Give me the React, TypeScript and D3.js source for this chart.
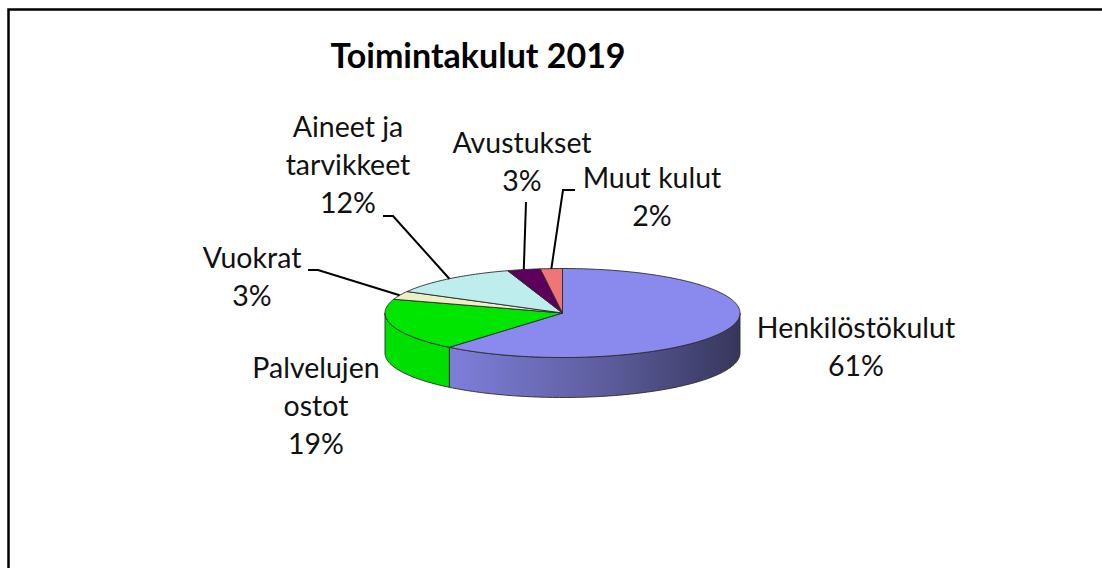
import React, { useEffect, useRef } from 'react';
import * as d3 from 'd3';

// chart data
const title = 'Toimintakulut 2019';
const categories = ['Henkilöstökulut', 'Palvelujen ostot', 'Vuokrat', 'Aineet ja tarvikkeet', 'Avustukset', 'Muut kulut'];
const shares = [61, 19, 3, 12, 3, 2];
const labelLines = [['Henkilöstökulut'], ['Palvelujen', 'ostot'], ['Vuokrat'], ['Aineet ja', 'tarvikkeet'], ['Avustukset'], ['Muut kulut']];
const topColors = ['#8a8aee', '#00e600', '#efefc6', '#bdeded', '#5c005c', '#ee7676'];
const sideColors = ['#7f7fdc', '#00e000', '#d8d8b0', '#a8d4d4', '#4a004a', '#d06060'];

// label layout (text block center x, first baseline y), leader knee/end
const labelLayout = [
  { x: 856, y: 338, leader: null },
  { x: 316, y: 378, leader: null },
  { x: 252, y: 268, leader: [[318, 270], [308, 270]] },
  { x: 348, y: 137, leader: [[393, 216], [383, 216]] },
  { x: 522, y: 153, leader: [[526, 202]] },
  { x: 652, y: 188, leader: [[563, 190], [575, 190]] },
];

const App = () => {
  const svgRef = useRef(null);

  useEffect(() => {
    const W = 1102;
    const H = 568;
    const svg = d3.select(svgRef.current).attr('width', W).attr('height', H);
    svg.selectAll('*').remove();

    const cx = 562.5;
    const cy = 313;
    const rx = 177.5;
    const ry = 44.5;
    const depth = 40;
    const lineH = 38;
    const font = 'Lato, "Open Sans", sans-serif';

    const px = (a) => cx + rx * Math.sin(a);
    const py = (a) => cy - ry * Math.cos(a);

    const pie = d3.pie().sort(null).value((d) => d.value).startAngle(0).endAngle(2 * Math.PI);
    const arcs = pie(categories.map((c, i) => ({ name: c, value: shares[i], i })));

    const defs = svg.append('defs');
    const grad = defs
      .append('linearGradient')
      .attr('id', 'sideGrad')
      .attr('gradientUnits', 'userSpaceOnUse')
      .attr('x1', cx - rx)
      .attr('x2', cx + rx)
      .attr('y1', 0)
      .attr('y2', 0);
    grad.append('stop').attr('offset', '0%').attr('stop-color', '#8a8ae8');
    grad.append('stop').attr('offset', '22%').attr('stop-color', '#7c7cd6');
    grad.append('stop').attr('offset', '65%').attr('stop-color', '#5a5a98');
    grad.append('stop').attr('offset', '100%').attr('stop-color', '#36365c');

    svg.append('rect').attr('width', W).attr('height', H).attr('fill', 'white');

    // border of the chart area: only left and top edges are in frame
    svg
      .append('path')
      .attr('d', `M8.5,${H}V9.5H${W}`)
      .attr('fill', 'none')
      .attr('stroke', '#000')
      .attr('stroke-width', 2.5);

    svg
      .append('text')
      .attr('x', 478)
      .attr('y', 68)
      .attr('text-anchor', 'middle')
      .style('font-family', font)
      .style('font-weight', 'bold')
      .style('font-size', '34px')
      .text(title);

    const sample = (a0, a1) => {
      const n = Math.max(2, Math.ceil(Math.abs(a1 - a0) / 0.02));
      return d3.range(n + 1).map((k) => a0 + ((a1 - a0) * k) / n);
    };

    const g = svg.append('g');

    // outer walls (front half only)
    arcs.forEach((d) => {
      const a0 = Math.max(d.startAngle, Math.PI / 2);
      const a1 = Math.min(d.endAngle, (3 * Math.PI) / 2);
      if (a1 <= a0) return;
      const angs = sample(a0, a1);
      const pts = angs.map((a) => [px(a), py(a)]);
      const bottom = angs.slice().reverse().map((a) => [px(a), py(a) + depth]);
      g.append('path')
        .attr('d', d3.line()(pts.concat(bottom)) + 'Z')
        .attr('fill', d.data.i === 0 ? 'url(#sideGrad)' : sideColors[d.data.i])
        .attr('stroke', '#2a2a2a')
        .attr('stroke-width', 0.9)
        .attr('stroke-linejoin', 'round');
    });

    // top faces
    arcs.forEach((d) => {
      const pts = [[cx, cy]].concat(sample(d.startAngle, d.endAngle).map((a) => [px(a), py(a)]));
      g.append('path')
        .attr('d', d3.line()(pts) + 'Z')
        .attr('fill', topColors[d.data.i])
        .attr('stroke', '#2a2a2a')
        .attr('stroke-width', 0.9)
        .attr('stroke-linejoin', 'round');
    });

    // labels and leader lines
    arcs.forEach((d) => {
      const L = labelLayout[d.data.i];
      const lines = labelLines[d.data.i].concat([`${shares[d.data.i]}%`]);
      const t = svg
        .append('text')
        .attr('text-anchor', 'middle')
        .style('font-family', font)
        .style('font-size', '28.5px')
        .style('fill', '#111');
      lines.forEach((s, k) => {
        t.append('tspan').attr('x', L.x).attr('y', L.y + k * lineH).text(s);
      });
      if (L.leader) {
        const mid = (d.startAngle + d.endAngle) / 2;
        const pts = [[px(mid), py(mid)]].concat(L.leader);
        svg
          .append('path')
          .attr('d', d3.line()(pts))
          .attr('fill', 'none')
          .attr('stroke', '#000')
          .attr('stroke-width', 2);
      }
    });
  }, []);

  return (
    <svg ref={svgRef} style={{ position: 'absolute', left: 0, top: 0, overflow: 'hidden' }}></svg>
  );
};

export default App;
